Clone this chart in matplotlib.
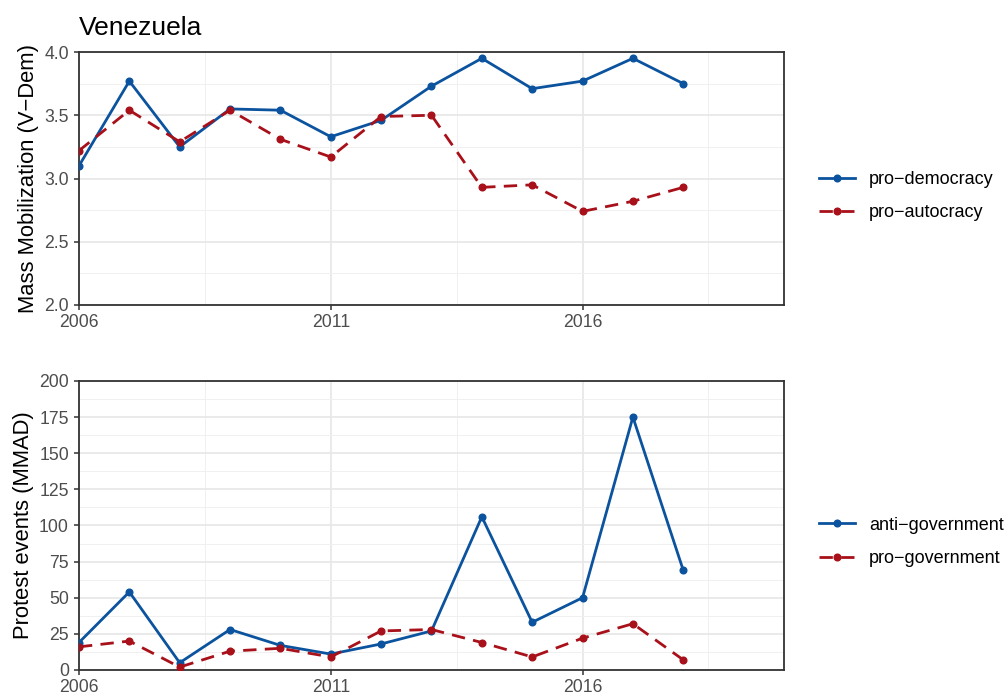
import numpy as np
import matplotlib
matplotlib.use("Agg")
import matplotlib.pyplot as plt

# Data
years = [2006, 2007, 2008, 2009, 2010, 2011, 2012, 2013, 2014, 2015, 2016, 2017, 2018]
pro_democracy = [3.10, 3.77, 3.25, 3.55, 3.54, 3.33, 3.46, 3.73, 3.95, 3.71, 3.77, 3.95, 3.75]
pro_autocracy = [3.22, 3.54, 3.29, 3.54, 3.31, 3.17, 3.49, 3.50, 2.93, 2.95, 2.74, 2.82, 2.93]
anti_government = [19, 54, 5, 28, 17, 11, 18, 27, 106, 33, 50, 175, 69]
pro_government = [16, 20, 2, 13, 15, 9, 27, 28, 19, 9, 22, 32, 7]

x_ticks = [2006, 2011, 2016]
top_ticks = [2.0, 2.5, 3.0, 3.5, 4.0]
bottom_ticks = [0, 25, 50, 75, 100, 125, 150, 175, 200]

blue = "#0b539e"
red = "#a8101a"

plt.rcParams['font.family'] = ['Liberation Sans', 'DejaVu Sans']

fig = plt.figure(figsize=(10.06, 7.0), dpi=100)
ax1 = fig.add_axes([0.0785, 0.5643, 0.7008, 0.3614])
ax2 = fig.add_axes([0.0785, 0.0429, 0.7008, 0.4129])


def style_axis(ax, yticks, ylabel):
    ax.set_xlim(2006, 2020)
    ax.set_ylim(yticks[0], yticks[-1])
    ax.set_xticks(x_ticks)
    ax.set_xticks([2008.5, 2013.5, 2018.5], minor=True)
    ax.set_yticks(yticks)
    step = yticks[1] - yticks[0]
    ax.set_yticks([t + step / 2 for t in yticks[:-1]], minor=True)
    ax.set_yticklabels([("%.1f" % t) if isinstance(t, float) else str(t) for t in yticks])
    ax.grid(which='major', color='#e8e8e8', lw=1.3, zorder=0)
    ax.grid(which='minor', color='#f0f0f0', lw=0.7, zorder=0)
    ax.set_axisbelow(True)
    for s in ax.spines.values():
        s.set_color('#333333')
        s.set_linewidth(1.3)
    ax.tick_params(which='major', length=3.7, width=1.1, color='#333333',
                   labelsize=12.7, labelcolor='#4d4d4d')
    ax.tick_params(axis='y', pad=3.5)
    ax.tick_params(axis='x', pad=2.5)
    ax.tick_params(which='minor', length=0)
    ax.set_ylabel(ylabel, fontsize=15.8, labelpad=4)


l1, = ax1.plot(years, pro_democracy, color=blue, lw=2.0, marker='o', ms=4.8, label='pro\u2212democracy', zorder=3)
l2, = ax1.plot(years, pro_autocracy, color=red, lw=2.0, marker='o', ms=4.8, dashes=(4.8, 3), label='pro\u2212autocracy', zorder=3)
style_axis(ax1, top_ticks, 'Mass Mobilization (V\u2212Dem)')
ax1.set_title('Venezuela', loc='left', fontsize=19, pad=12)
ax1.legend(loc='center left', bbox_to_anchor=(1.05, 0.43), frameon=False,
           fontsize=13, handlelength=2.0, handletextpad=0.75, labelspacing=0.9,
           borderpad=0, borderaxespad=0)

l3, = ax2.plot(years, anti_government, color=blue, lw=2.0, marker='o', ms=4.8, label='anti\u2212government', zorder=3)
l4, = ax2.plot(years, pro_government, color=red, lw=2.0, marker='o', ms=4.8, dashes=(4.8, 3), label='pro\u2212government', zorder=3)
style_axis(ax2, bottom_ticks, 'Protest events (MMAD)')
ax2.legend(loc='center left', bbox_to_anchor=(1.05, 0.443), frameon=False,
           fontsize=13, handlelength=2.0, handletextpad=0.75, labelspacing=0.9,
           borderpad=0, borderaxespad=0)

fig.savefig("out.png", dpi=100)
